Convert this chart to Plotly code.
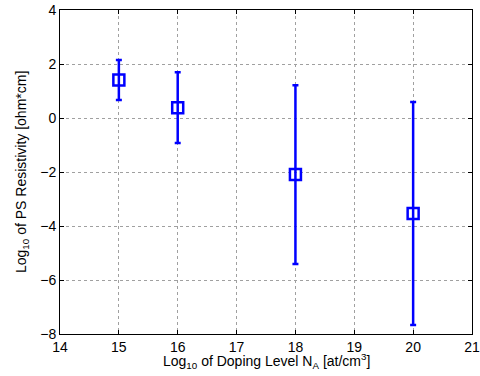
import plotly.graph_objects as go

doping = [15, 16, 18, 20]
resistivity = [1.41, 0.38, -2.09, -3.54]
err_top = [2.15, 1.69, 1.21, 0.59]
err_bottom = [0.67, -0.93, -5.41, -7.67]

x_title = "Log<sub>10</sub> of Doping Level N<sub>A</sub> [at/cm<sup>3</sup>]"
y_title = "Log<sub>10</sub> of PS Resistivity [ohm*cm]"

err_plus = [t - c for t, c in zip(err_top, resistivity)]
err_minus = [c - b for c, b in zip(resistivity, err_bottom)]

blue = "#0000ff"
fig = go.Figure(go.Scatter(
    x=doping, y=resistivity, mode="markers",
    marker=dict(symbol="square-open", size=11, color=blue, line=dict(width=2.5, color=blue)),
    error_y=dict(type="data", symmetric=False, array=err_plus, arrayminus=err_minus,
                 color=blue, thickness=2.5, width=3),
    showlegend=False,
))

axis_common = dict(
    showline=True, linecolor="black", linewidth=1, mirror="ticks",
    ticks="inside", ticklen=4, tickcolor="black",
    showgrid=True, gridcolor="#a0a0a0", griddash="dot", gridwidth=1,
    zeroline=False, tickfont=dict(family="Liberation Sans, Arial", size=14, color="black"),
)

fig.update_layout(
    width=480, height=376,
    margin=dict(l=60, r=8, t=10, b=42, autoexpand=False),
    paper_bgcolor="white", plot_bgcolor="white",
    font=dict(family="Liberation Sans, Arial", size=14, color="black"),
    xaxis=dict(range=[14, 21], dtick=1, tick0=14, ticklabelstandoff=0, **axis_common),
    yaxis=dict(range=[-8, 4], dtick=2, tick0=-8, **axis_common),
    annotations=[
        dict(text=x_title, xref="paper", yref="paper", x=0.5, y=0,
             xanchor="center", yanchor="middle", yshift=-27, showarrow=False,
             font=dict(size=14)),
        dict(text=y_title, xref="paper", yref="paper", x=0, y=0.5,
             xanchor="center", yanchor="middle", xshift=-38, textangle=-90,
             showarrow=False, font=dict(size=14)),
    ],
)

fig.write_html("out.html", config={"displayModeBar": False},
               post_script="document.body.style.margin='0';")
